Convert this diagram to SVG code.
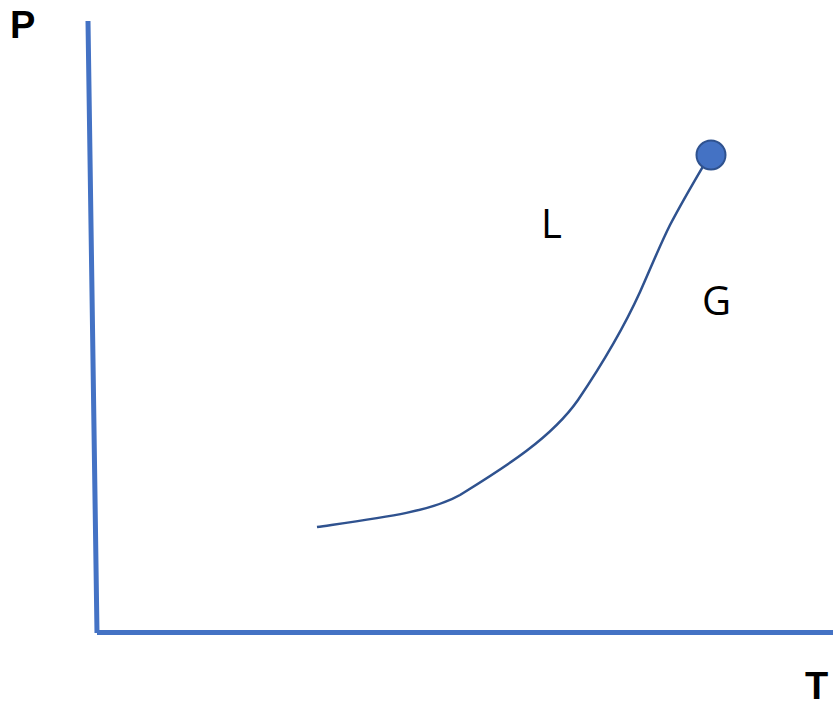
<svg xmlns="http://www.w3.org/2000/svg" width="833" height="703" viewBox="0 0 833 703">
<style>
.axis{stroke:#4472C4;stroke-width:5;fill:none}
.curve{stroke:#2F528F;stroke-width:2.5;fill:none}
.lbl{font-family:"Open Sans","Noto Sans",sans-serif;font-size:40px;fill:#000}
.ax{font-family:"Liberation Sans",Arial,sans-serif;font-weight:bold;font-size:38px;fill:#000}
</style>
<g id="axes">
<path class="axis" d="M88 21 L97 633 M97 632.5 L833 632.5"/>
</g>
<g id="connectors">
<path class="curve" d="M317 527 C380 518 430 512 460 495 C500 470 550 440 578 400 C605 360 625 325 640 292 C652 265 660 245 670 225 C682 202 695 180 705 163"/>
</g>
<g id="critical-point">
<circle cx="711" cy="155" r="14.5" fill="#4472C4" stroke="#2F528F" stroke-width="2"/>
</g>
<g id="label-P"><text class="ax" x="10" y="38">P</text></g>
<g id="label-T"><text class="ax" x="805" y="699">T</text></g>
<g id="label-L"><text class="lbl" x="541" y="238">L</text></g>
<g id="label-G"><text class="lbl" x="702" y="315">G</text></g>
</svg>
